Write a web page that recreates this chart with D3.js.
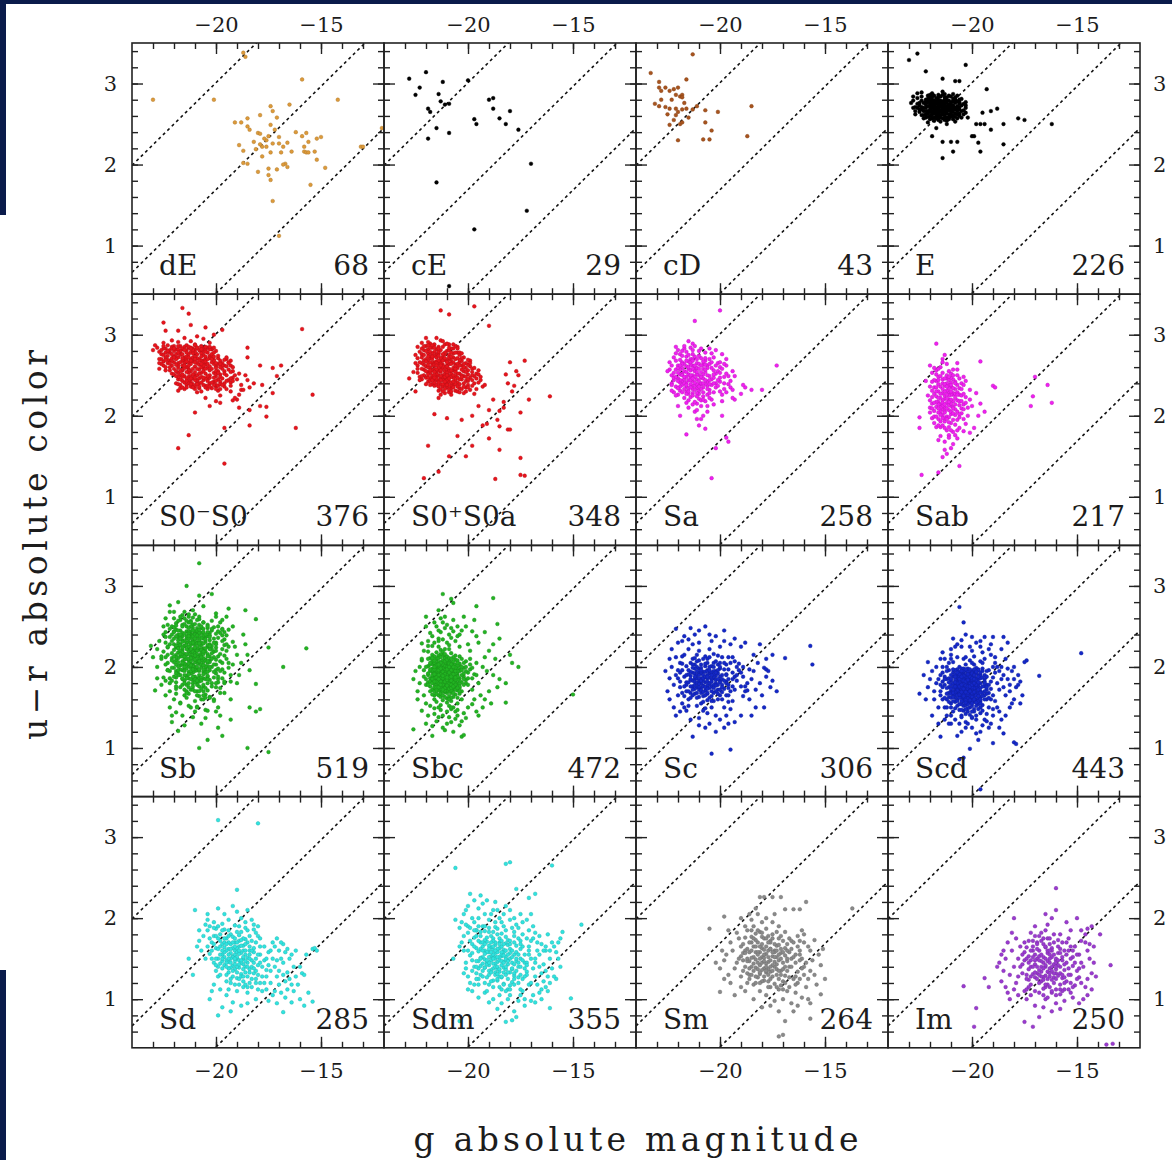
<!DOCTYPE html>
<html><head><meta charset="utf-8">
<script src="https://cdn.jsdelivr.net/npm/d3@7"></script>
<style>
html,body{margin:0;padding:0;background:#fff;}
svg{display:block;}
text{font-family:"DejaVu Serif",serif;fill:#1c1c1c;}
</style></head><body>
<svg id="chart" width="1172" height="1160"></svg>
<script>
// Morphological types, panel order row by row
const types  = ["dE","cE","cD","E","S0\u207BS0","S0\u207AS0a","Sa","Sab","Sb","Sbc","Sc","Scd","Sd","Sdm","Sm","Im"];
const counts = [68,29,43,226,376,348,258,217,519,472,306,443,285,355,264,250];
const colors = ["#dd9a3a","#000000","#a8541e","#000000","#e8141c","#e8141c","#f020f0","#f020f0",
                "#22b422","#22b422","#1428c8","#1428c8","#2fe4e0","#2fe4e0","#8a8a8a","#9a3ad0"];
const magTicks   = [-20, -15];
const colorTicks = [1, 2, 3];
// Reference lines: u−r = a + slope·(M_g + 24)
const guideOffsets = [1.99, 0.67, -0.61];
const guideSlope = 0.255;

// Galaxies of each type; each entry "m c" = −10·M_g and 100·(u−r)
const gal_dE = `230 280,201 280,186 333,159 305,142 280,165 274,174 272,173 266,171 258,191 252,
188 252,185 257,179 261,184 243,180 239,179 238,174 249,172 243,175 235,176 230,
170 234,159 235,157 239,152 232,150 234,156 228,189 224,187 217,181 219,178 222,
173 226,170 226,168 222,166 227,164 216,169 215,174 215,178 210,187 202,185 201,
180 191,175 195,171 194,167 201,166 197,175 187,174 181,158 216,157 215,156 215,
153 216,152 206,148 196,155 175,173 155,170 112,131 222,130 222,121 245,158 222,
179 225,176 222,168 200,177 232,162 240,182 228,187 338,185 247`;

const gal_cE = `228 306,220 314,225 286,212 302,200 304,214 287,213 278,211 274,209 275,219 269,
218 265,215 245,219 232,209 239,197 256,196 250,190 280,188 282,188 269,185 257,
182 250,180 266,176 243,170 201,215 178,172 143,197 120,209 50,223 295`;

const gal_cD = `233 313,213 336,229 302,229 295,228 291,224 291,222 293,221 286,219 284,218 286,
216 305,218 283,231 275,228 280,226 271,224 269,221 269,220 265,218 268,216 269,
213 268,221 261,207 267,201 265,224 249,219 250,218 252,207 252,204 242,220 230,
208 231,205 231,185 272,187 235,226 295,223 280,220 295,217 276,225 262,215 258,
222 255,211 272,229 272`;

const gal_E = `230 329,226 337,222 315,214 306,208 303,206 303,203 323,193 293,188 269,191 266,
195 264,198 250,196 250,194 250,185 250,178 257,175 255,162 250,191 243,200 235,
199 235,197 227,196 216,185 225,209 216,214 208,214 228,210 228,207 228,219 235,
217 245,
215 267,218 271,212 263,220 275,209 260,224 279,216 258,211 272,221 266,206 268,
217 282,213 255,226 270,208 276,219 261,214 274,222 258,210 265,216 279,204 262,
228 284,212 250,219 288,207 257,223 266,215 261,209 281,218 254,225 273,213 270,
220 283,206 275,216 264,211 258,227 262,214 286,203 270,221 277,208 253,217 268,
224 289,213 277,219 257,210 284,216 272,205 258,222 270,212 266,229 276,215 253,
207 272,218 279,214 262,221 252,209 268,226 282,217 275,211 279,203 264,220 260,
215 284,208 263,223 276,212 258,219 270,206 280,216 255,225 265,210 271,213 287,
218 263,204 275,221 285,214 268,227 271,209 256,216 277,211 262,222 262,207 285,
213 280,219 274,205 266,217 260,224 268,210 277,215 271,208 268,226 288,212 254,
220 268,216 286,202 258,223 257,211 274,218 266,207 262,214 278,221 272,209 287,
217 264,213 261,228 279,206 271,219 281,215 276,210 259,224 261,212 283,216 269,
203 277,220 256,214 271,208 280,222 280,211 267,218 258,205 273,225 276,213 265,
216 262,209 273,219 266,214 290,221 259,207 266,217 271,212 276,227 266,210 262,
215 279,223 270,206 263,218 285,213 258,220 272,208 270,216 266,224 284,211 270,
219 277,204 267,214 264,222 274,209 278,217 257,212 272,226 275,215 265,207 278,
221 263,213 273,218 269,205 281,216 283,210 274,223 261,214 257,220 286,208 259,
212 269,217 278,225 268,211 285,219 263,206 260,215 274,222 266,209 271,216 260,
214 276,220 279,207 269,218 273,213 283,228 270,210 268,216 270,203 273,221 281,
217 266,212 279,224 271,209 265,215 258,219 284,206 277,214 267,222 277,211 256,
216 274,208 283,220 265,213 268,218 276`;

const gal_S0m = `216 333,213 326,225 315,218 305,224 305,212 312,205 309,201 300,197 306,159 307,
154 226,162 185,210 204,213 176,218 160,196 141,196 185,184 188,184 207,176 211,
176 199,179 212,173 228,169 262,173 259,179 262,185 272,185 284,198 216,190 220,
189 210,178 238,171 249,193 230,182 240,188 232,
208 257,214 281,200 236,221 262,195 270,205 222,204 284,218 245,198 251,226 276,
206 268,215 233,192 255,210 288,219 271,201 242,213 258,186 250,218 291,207 230,
216 262,203 274,209 240,224 283,194 244,212 270,200 261,192 219,205 252,217 286,
211 246,196 262,222 268,207 279,214 238,199 231,209 265,227 258,202 273,218 253,
204 245,213 276,193 268,220 280,208 234,216 256,206 295,225 267,210 250,201 264,
219 240,206 283,203 212,195 250,223 274,203 256,215 269,209 244,228 284,200 238,
214 260,230 281,210 281,221 252,205 237,217 277,192 247,208 270,188 238,202 282,
211 267,218 231,199 264,213 248,206 275,226 270,196 236,215 285,203 247,220 266,
200 218,222 278,201 269,216 243,194 257,207 286,212 255,198 242,219 282,205 263,
217 250,204 278,211 239,225 262,197 265,213 284,200 249,210 269,185 244,207 253,
193 262,215 272,208 246,223 287,202 234,218 259,215 296,212 242,206 280,227 270,
210 261,199 245,220 273,205 270,214 235,191 250,216 282,203 240,224 256,209 276,
201 253,213 266,218 239,212 292,207 248,222 281,211 272,198 233,216 268,204 259,
226 264,209 284,202 266,215 241,193 241,220 258,206 238,212 279,199 271,217 245,
205 281,223 269,210 236,197 258,214 287,201 247,219 276,208 263,195 233,212 249,
216 257,203 271,191 222,207 268,194 266,213 253,200 280,225 283,209 243,218 272,
198 248,211 283,204 233,189 226,206 259,215 265,229 287,217 234,202 276,210 254,
220 286,208 240,214 270,196 255,224 260,201 268,212 236,205 285,218 248,199 237,
213 243,207 277,223 279,193 246,210 266,216 283,200 259,219 255,204 243,227 279,
209 271,196 240,215 249,202 283,221 268,206 244,212 264,198 268,217 280,205 235,
224 272,211 251,225 290,208 281,218 262,201 238,214 278,199 255,184 235,207 260,
203 250,216 271,210 233,226 281,197 262,213 240,205 273,221 285,209 258,195 243,
212 284,200 265,189 252,206 255,223 265,193 254,215 259,202 241,217 275,208 236,
196 269,214 246,221 283,204 264,210 278,198 239,190 245,207 273,218 265,201 278,
211 235,222 260,205 246,215 281,199 274,209 250,192 260,219 270,203 282,213 256,
207 285,217 238,200 243,224 278,210 244,209 298,212 268,205 258,220 251,214 273,
202 270,208 252,187 232,197 246,216 276,210 287,204 237,218 282,194 265,213 262,
219 263,206 266,211 277,200 252,198 225,203 285,221 271,209 239,198 260,225 275,
214 254,193 237,207 282,217 266,201 273,212 246,222 256,205 267,196 252,210 273,
218 278,204 249,213 285,203 290,209 229,220 283,206 262,216 248,202 258,227 265,
195 272,212 239,208 268,221 276,200 255,215 262,203 236,224 269,211 281,197 238,
206 247,217 255,210 270,192 243,214 267,201 284,219 249,207 241,223 280,204 270,
213 272,198 264,209 284,216 235,205 279,222 265,200 233,211 258,218 286,195 261,
207 264,214 243,203 261,220 272,221 293,210 247,225 286,212 283,199 253,216 251`;

const gal_S0p = `213 330,209 325,197 335,190 311,180 266,173 268,161 224,171 220,177 255,176 250,
178 237,182 251,181 240,185 206,183 210,175 204,181 183,180 183,185 187,185 158,
175 148,175 127,173 126,187 122,191 190,193 188,205 175,201 150,209 150,219 163,
214 131,221 123,198 163,190 207,188 220,183 217,179 230,195 212,198 200,203 195,
210 197,216 202,225 230,228 246,190 172,186 195,
209 249,213 258,205 241,216 266,201 235,219 254,207 272,211 228,203 262,221 281,
210 262,198 244,215 276,206 231,224 262,212 285,200 251,217 239,208 267,214 222,
220 270,204 252,226 254,209 288,196 233,213 246,202 272,218 259,207 238,222 290,
211 255,199 268,216 245,205 278,223 248,212 236,195 256,219 277,208 226,214 264,
203 245,217 284,210 240,201 259,221 263,206 249,213 293,197 227,215 253,209 275,
219 242,204 266,212 250,207 283,224 271,200 238,216 258,211 269,194 244,218 289,
208 234,214 277,202 255,220 247,205 230,210 257,222 276,199 261,213 239,217 265,
206 244,215 296,203 268,211 246,225 265,209 229,197 249,218 271,204 278,212 258,
216 237,201 243,219 282,207 256,213 267,193 236,221 257,209 242,205 285,214 250,
210 280,198 254,217 248,206 263,223 279,202 228,212 272,208 252,220 296,215 244,
204 239,211 288,196 246,218 253,209 264,214 231,200 269,222 265,207 247,216 274,
213 254,203 257,220 286,208 237,224 253,210 246,199 232,215 282,205 259,217 262,
211 238,219 268,202 249,214 279,206 270,195 241,212 263,221 250,209 258,216 288,
207 277,218 246,204 234,213 271,200 263,222 272,210 235,215 267,198 250,208 283,
214 243,205 252,219 291,211 260,202 240,217 256,209 270,224 285,206 239,212 247,
216 279,201 265,213 233,208 248,220 261,197 240,210 268,215 238,204 275,218 284,
209 255,222 245,206 286,212 261,199 247,217 270,203 233,214 256,211 276,221 268,
205 264,215 251,192 238,218 266,208 271,213 226,200 256,210 289,219 247,207 259,
212 244,203 271,216 263,210 251,225 275,206 256,214 285,198 237,220 255,209 232,
217 250,204 245,211 278,201 230,215 272,208 241,222 283,213 249,196 252,219 260,
207 266,212 292,205 236,218 274,210 244,202 260,216 241,209 281,214 259,223 266,
200 243,211 251,217 287,206 254,213 264,220 239,203 277,208 230,215 257,194 248,
219 273,209 246,212 268,205 283,216 250,201 248,222 258,207 242,214 274,210 261,
198 258,215 247,204 269,218 256,211 233,208 278,221 286,213 244,206 261,217 277,
210 253,202 236,214 268,220 280,207 250,212 239,199 265,216 284,209 237,224 258,
205 247,213 281,218 243,208 264,201 254,215 265,211 242,219 263,204 229,212 276,
216 254,207 288,210 266,222 249,203 250,214 236,197 259,209 272,217 244,206 278,
213 262,200 235,219 287,211 248,205 271,215 246,208 256,221 275,202 264,218 238,
209 284,214 241,206 258,217 273,212 230,195 251,210 250,220 267,204 262,216 247,
211 271,207 235,218 279,203 248,213 256,223 244,208 273,215 262,200 245,219 251,
210 238,214 283`;

const gal_Sa = `200 330,212 317,173 262,180 232,185 232,188 235,204 123,197 173,196 168,202 160,
216 177,219 200,193 249,193 220,194 222,189 238,190 227,209 196,207 184,199 200,
213 237,218 252,208 224,221 268,204 245,215 210,210 280,223 240,200 230,216 261,
211 215,206 262,219 231,213 289,202 252,217 222,209 247,224 257,198 240,214 270,
208 200,220 246,212 258,205 232,216 279,197 262,210 238,222 229,203 272,215 244,
218 266,207 218,213 250,200 247,221 285,210 227,216 236,195 235,211 265,206 242,
214 223,203 256,219 241,209 271,223 250,212 205,205 283,217 255,199 226,213 262,
210 250,220 226,206 237,215 292,201 265,218 243,211 196,208 258,224 266,196 249,
216 230,204 220,213 270,221 257,209 239,199 276,214 248,206 205,219 276,211 234,
202 240,217 264,210 221,222 244,207 268,213 228,197 252,215 258,220 212,205 249,
212 286,208 235,218 238,203 229,214 256,225 255,200 260,211 245,216 216,207 278,
219 251,213 214,205 264,221 236,209 254,195 243,215 267,210 188,202 235,217 283,
211 259,206 226,220 262,214 239,198 233,212 273,208 246,223 231,204 277,216 248,
209 219,218 280,213 243,201 255,215 227,207 254,222 272,211 207,197 270,219 236,
214 263,204 238,210 231,217 245,200 242,212 255,220 281,206 212,216 268,208 263,
203 247,221 225,213 276,209 240,194 255,215 234,211 251,218 259,205 222,212 237,
216 241,207 271,223 262,210 258,199 218,214 284,202 262,219 244,208 229,213 225,
211 270,217 233,205 244,220 253,212 217,196 239,215 251,209 283,222 247,206 259,
213 233,200 266,218 274,208 251,214 244,203 214,210 264,216 227,198 248,221 277,
207 239,212 248,219 257,205 270,215 260,211 224,201 237,217 286,209 212,223 238,
214 250,206 250,210 243,218 229,202 281,213 258,197 229,216 273,208 220,220 259,
211 239,204 266,215 219,221 248,209 233,199 258,213 281,207 244,218 264,194 232,
212 262,216 254,205 228,210 274,220 234,203 251,214 235,208 267,217 240,200 253,
213 246,209 262,219 269,206 233,211 228,215 275,201 244,218 250,207 257,222 253,
210 236,214 266,204 259,216 238,212 241,198 264,220 243,208 240,213 268,205 239,
211 254,217 248,209 248,215 230,203 240,212 232,219 262,207 263`;

const gal_Sab = `170 248,164 238,171 224,172 212,162 216,196 267,190 237,189 235,217 289,224 127,
216 130,206 138,225 185,225 198,220 210,199 185,201 179,197 200,194 205,222 243,
210 212,213 221,207 205,216 230,204 196,219 215,211 238,208 189,214 208,206 226,
212 199,217 243,209 218,202 210,215 186,211 229,220 204,205 240,213 193,208 233,
216 217,210 252,214 201,203 223,218 235,209 180,212 246,206 213,221 225,211 207,
215 260,207 195,213 237,209 226,217 211,204 248,211 176,219 197,208 242,214 219,
212 264,205 203,216 248,210 191,218 227,213 206,201 232,209 257,215 214,207 172,
211 244,220 236,208 208,214 228,203 190,212 216,217 256,206 234,210 202,216 196,
213 275,209 165,215 222,204 214,219 253,211 198,207 250,214 240,210 182,218 206,
205 225,212 231,216 170,209 245,213 211,220 262,207 219,211 255,215 193,202 200,
214 270,208 201,217 224,210 236,206 185,212 209,218 244,213 158,209 228,216 214,
211 220,204 238,215 205,219 231,207 265,213 197,210 247,217 186,203 216,212 240,
209 211,216 258,214 188,208 227,211 173,220 219,206 246,213 230,218 199,210 160,
215 236,205 209,212 250,217 217,209 195,214 266,207 229,211 213,219 242,204 181,
213 204,210 226,216 239,208 176,212 221,218 259,206 202,214 245,211 192,215 227,
203 243,209 234,217 199,212 182,214 216,207 257,219 209,210 241,213 168,216 222,
211 225,206 218,215 249,208 214,213 239,218 191,210 205,212 153,204 227,217 235,
209 250,214 212,211 234,216 204,207 238,213 246,201 220,215 175,210 230,219 223,
212 196,208 222,217 251,205 233,214 233,210 215,216 188,206 198,213 225,198 228,
211 248,215 210,209 203,218 216,212 236,207 182,214 197,210 220,200 212,216 244,
213 214,208 240,211 186,217 230,205 218,214 253,209 209,212 226,196 215,215 201,
210 238,213 185,207 226,216 209,211 217,204 208,214 149`;

const gal_Sb = `208 328,214 300,208 288,202 290,181 259,175 224,168 200,157 223,179 148,181 145,
185 100,175 95,208 100,204 110,218 121,221 140,229 171,231 226,228 222,197 115,
181 179,184 150,186 270,222 268,225 250,
208 204,215 226,199 185,221 211,204 248,212 172,195 220,218 192,206 235,210 158,
202 200,216 252,209 181,224 230,197 239,213 208,205 166,219 173,200 262,211 222,
214 189,207 217,192 203,220 244,210 195,203 228,217 156,206 186,223 205,198 174,
212 240,201 212,215 199,208 262,196 193,219 224,205 147,211 233,225 187,204 205,
217 213,209 170,194 246,213 194,206 255,222 180,200 230,210 213,216 238,203 163,
207 227,220 199,198 207,212 150,215 268,204 188,210 243,193 182,218 218,209 196,
201 219,214 235,226 210,206 176,211 203,197 258,216 185,203 242,208 164,221 250,
213 223,205 209,190 215,218 240,209 230,200 192,215 172,207 248,223 196,211 184,
196 227,217 202,204 171,212 257,219 208,206 221,200 145,214 215,208 190,224 243,
210 232,202 180,216 221,194 199,208 214,220 260,205 197,213 167,199 236,217 190,
211 252,223 224,206 206,215 183,201 249,209 178,218 236,197 186,212 213,204 225,
207 160,214 244,192 231,219 195,210 220,203 208,216 264,208 176,221 217,200 203,
213 186,205 238,217 228,198 168,211 240,224 203,206 194,202 257,215 209,209 151,
219 246,208 226,195 210,212 199,204 180,216 233,210 265,200 220,222 186,207 242,
214 170,203 233,218 211,209 205,197 197,213 255,206 170,220 228,211 193,199 250,
216 196,205 219,210 244,225 219,201 187,213 231,207 208,194 225,219 181,208 259,
203 196,212 227,217 245,209 186,198 242,215 216,206 160,222 237,211 210,200 175,
214 250,207 200,193 190,219 215,204 243,211 172,216 203,208 233,223 252,202 222,
210 198,218 229,205 185,213 262,199 213,209 241,221 199,206 223,215 165,196 234,
212 218,201 160,217 237,208 210,224 212,204 200,211 248,197 205,214 189,220 243,
206 247,213 201,203 213,219 254,209 165,215 226,200 196,210 227,222 170,205 231,
216 207,208 182,195 239,212 236,218 190,204 216,211 261,199 181,214 230,207 173,
220 221,210 206,202 245,215 195,206 239,213 175,197 222,217 258,209 213,224 183,
204 189,212 244,218 201,200 228,208 252,214 210,205 162,221 232,210 188,196 214,
216 242,207 230,213 216,202 176,219 187,209 248,194 205,211 180,215 253,206 197,
201 235,217 175,208 221,222 247,205 208,212 192,198 255,214 238,210 170,220 206,
207 214,215 260,203 184,211 229,218 224,206 255,213 191,199 198,216 213,209 236,
223 225,204 252,210 200,196 180,214 203,208 242,219 167,202 210,212 250,217 227,
205 174,211 215,220 188,207 236,213 243,200 241,216 178,209 223,195 228,218 257,
212 207,206 229,214 257,203 200,210 181,221 240,208 195,217 220,199 188,204 238,
215 232,209 208,197 247,213 220,219 203,206 165,211 238,202 217,224 237,208 186,
216 186,204 227,210 253,218 233,200 209,214 178,207 222,221 208,212 185,196 243,
209 245,213 210,205 193,220 249,208 170,215 204,201 230,211 219,217 262,203 206,
206 211,214 222,219 238,210 185,198 216,212 255,207 187,222 195,204 250,216 231,
211 201,203 239,217 197,209 229,200 180,213 235,205 223,219 212,208 246,214 168,
202 226,215 241,210 217,221 183,207 203,197 232,213 248,206 178,218 245,212 195,
208 238,216 218,204 207,211 188,220 235,209 200,214 227,199 244,206 216,223 215,
213 180,207 250,218 206,203 222,210 240,215 190,201 203,212 230,219 251,205 201,
209 216,214 198,206 243,217 235,211 176,200 224,213 241,208 207,222 228,204 185,
215 213,210 235,198 195,212 203,219 226,206 191,216 250,203 237,209 183,213 225,
207 221,218 196,211 245,204 213,214 186,220 213,201 194,209 258,216 224,212 211,
205 234,213 204,208 197,217 240,210 224,202 247,215 180,211 230,219 192,206 202,
212 222,209 239,214 216,207 183,203 226,216 205,210 209,218 223,205 240,211 197,
208 229,213 238,206 219,215 200,210 214,204 194,217 216,209 220,212 202,207 212,
220 160,196 168,222 150,190 180,216 140,199 150,226 178,193 160,211 138,204 146,
188 205,224 260,192 250,228 200,186 228,225 240,195 262,220 268,189 190,230 212,
213 152,219 144,207 130,201 158,224 165,215 128,198 140,210 145,221 132,193 135,
227 232,185 215,222 276,194 272,218 280,206 275,228 186,184 196,200 266,211 270,
217 155,205 137,196 182,191 225,226 213,187 240,223 196,209 150,214 162,199 125,
203 162,213 265,219 176,197 246`;

const gal_Sbc = `188 285,212 290,208 284,207 279,186 253,176 200,179 205,180 215,150 166,226 123,
203 114,202 116,217 115,182 156,182 180,185 235,192 243,220 262,214 270,196 275,
209 183,212 191,206 175,215 198,203 170,218 186,210 205,207 163,213 180,200 193,
216 172,211 212,204 186,219 201,208 158,214 178,201 207,210 168,217 215,205 190,
210 195,207 179,221 188,213 153,202 199,215 209,209 174,198 186,216 165,211 222,
206 196,214 204,208 148,220 178,212 185,204 213,217 194,210 161,201 180,213 206,
219 219,205 162,211 198,215 185,207 203,222 208,209 152,214 173,199 197,212 215,
208 189,217 166,203 210,210 176,216 202,206 145,213 192,218 211,201 184,211 169,
214 225,207 194,212 177,218 195,204 202,209 208,215 157,197 191,211 182,217 204,
205 171,213 216,210 187,219 181,208 205,216 149,202 188,212 196,206 214,214 165,
211 175,217 207,207 184,221 196,209 222,213 170,200 178,215 191,204 197,210 156,
218 176,206 209,212 201,215 218,203 160,209 190,214 182,220 200,207 172,211 211,
213 187,198 199,216 179,210 202,205 187,217 226,208 168,212 184,202 205,214 194,
209 164,215 211,206 181,219 190,211 198,204 174,213 163,208 217,216 188,201 195,
210 185,212 208,217 172,207 197,214 214,205 155,218 203,209 178,203 190,211 204,
215 176,208 201,213 196,220 185,206 166,210 213,216 193,212 159,200 186,214 206,
209 170,217 183,204 204,211 189,207 212,214 171,219 210,210 180,205 198,213 221,
216 160,208 193,212 174,202 178,215 204,209 199,218 170,206 186,211 207,213 179,
207 150,214 188,210 209,217 198,204 167,212 188,199 203,216 213,208 177,211 163,
213 200,205 193,219 192,209 185,215 167,206 203,212 219,210 172,218 182,203 181,
211 194,216 205,208 162,214 198,207 189,213 173,201 200,217 188,210 199,205 208,
212 182,209 211,215 194,206 172,219 178,211 178,204 195,214 211,208 186,216 170,
210 191,213 167,207 207,217 196,202 192,212 203,209 160,215 183,205 179,211 216,
208 198,214 187,216 208,206 190,210 171,213 212,203 200,218 197,209 195,212 165,
207 185,215 172,211 201,204 183,217 211,210 188,213 193,206 177,214 201,208 210,
212 176,209 204,216 184,205 202,211 170,218 205,207 193,213 185,202 185,215 196,
210 178,214 192,208 171,212 198,206 199,217 180,209 188,211 190,204 170,213 205,
216 197,207 175,210 200,215 178,205 184,212 170,209 197,214 183,208 203,211 185,
213 189,206 192,217 190,210 183,204 179,212 193,208 180,215 202,209 176,211 196,
214 177,207 200,212 187,216 175,205 195,210 193,213 197,208 185,211 180,206 184,
210 230,205 238,214 235,200 228,218 242,208 248,212 255,203 245,216 230,196 238,
207 258,213 243,201 250,219 232,209 240,204 225,215 250,198 244,211 262,220 250,
206 232,210 252,214 245,202 262,217 238,208 236,195 230,212 234,222 229,205 250,
216 255,209 227,199 220,213 260,204 240,219 226,207 244,211 248,197 258,214 232,
210 145,205 140,214 138,200 150,218 152,208 132,212 125,203 133,216 142,196 145,
207 120,213 147,201 137,219 140,209 138,204 128,215 133,198 154,211 122,220 130,
206 136,210 130,214 150,202 143,217 127,208 150,195 140,212 140,222 146,205 147,
195 180,190 170,193 200,188 190,197 160,192 212,186 175,196 205,189 155,194 165,
191 195,187 210,198 172,193 150,190 220,196 190,185 185,192 160,199 210,188 228,
223 180,221 165,225 195,222 210,224 170,220 155,226 185,221 220,223 200,224 160,
209 192,212 181,207 168,214 196,210 175,205 188,216 186,208 194,213 176,211 171,
206 180,215 190,209 182,212 178,208 191,214 180,210 197,207 181,213 186,211 193,
204 176,217 185,209 173,212 192,206 195,215 182,210 186,208 174,213 191,216 200,
205 205,211 174,214 203,207 188,210 181,213 183,208 196,216 182,209 200,212 172,
203 196,215 175,210 190,206 178,213 198,211 182,208 187,214 190,209 179,212 194,
207 191,210 184,216 191,205 174,212 186,209 187,214 175,211 191,208 183,213 182,
206 187,210 177,215 187,208 178,211 188,213 178,209 193,212 189,207 176,214 185,
210 187,208 188`;

const gal_Sc = `221 247,157 226,169 211,156 203,204 93,195 98,213 114,175 183,179 199,178 197,
205 179,209 186,201 172,213 193,197 165,216 181,207 201,203 158,211 175,199 190,
214 168,206 210,200 183,218 196,204 150,210 163,195 205,208 177,217 215,202 195,
212 185,198 173,221 190,206 143,193 188,210 220,215 160,203 205,208 194,190 176,
219 205,201 160,207 187,213 228,196 197,211 152,204 176,216 170,199 212,209 168,
222 178,205 192,194 158,212 203,202 140,208 210,218 155,200 225,206 167,191 196,
214 184,197 182,210 198,204 232,216 146,207 181,188 170,211 186,201 203,220 165,
209 155,199 169,213 210,206 196,193 207,217 188,203 186,210 137,196 174,215 222,
202 180,219 175,208 164,185 185,211 200,205 222,198 150,214 194,200 198,207 171,
212 167,194 193,204 185,218 213,209 203,197 203,215 152,206 159,189 164,210 185,
201 214,213 176,223 200,207 149,203 195,196 212,211 215,216 190,199 178,186 197,
208 183,210 230,205 162,192 183,214 205,220 186,202 170,198 232,212 192,206 205,
217 164,204 201,195 170,209 174,183 172,211 162,200 188,215 234,207 213,197 191,
203 168,219 193,210 208,194 212,206 177,213 183,189 188,201 178,216 201,208 146,
199 160,212 211,205 187,192 200,210 193,218 168,203 216,197 140,214 176,207 194,
224 186,200 205,209 180,187 180,213 165,204 158,196 185,211 195,221 212,206 186,
215 181,198 197,208 157,202 189,184 195,210 172,217 150,205 200,193 172,212 178,
207 204,200 165,214 189,190 193,203 178,211 207,196 157,219 182,209 192,181 180,
204 170,213 203,199 185,216 178,206 168,191 204,210 182,202 207,195 148,212 198,
208 176,218 204,201 192,205 212,197 180,214 162,188 176,209 199,203 188,211 168,
220 196,206 190,194 176,212 173,200 200,207 165,215 196,189 200,204 193,198 205,
210 176,196 165,213 199,202 184,217 176,205 174,192 190,209 183,200 172,214 185,
206 182,211 190,187 171,203 200,215 170,198 183,208 190,201 196,212 182,194 185,
178 188,182 205,176 175,180 165,184 215,179 150,186 160,177 195,183 150,181 228,
220 230,224 210,222 150,218 232,225 170,221 140,219 145,223 222,217 238,224 160,
205 240,198 245,210 245,193 235,214 248,202 238,190 225,207 250,195 228,212 240,
205 130,198 125,210 128,193 132,214 135,202 120,190 140,207 125,200 135,196 130,
205 180,208 186,202 177,206 195,210 190,204 182,207 175,203 191,209 171,201 185,
206 173,211 180,204 190,208 169,200 181,205 196,210 179,203 174,207 188,202 193,
197 190,212 188,199 175,209 196,204 164,215 191,201 167,206 188,196 178,213 172,
175 215,173 170,185 140,188 230,178 210,226 195`;

const gal_Scd = `206 274,204 255,148 217,168 189,174 208,175 206,200 237,194 237,190 237,185 237,
225 167,221 206,215 114,206 86,204 88,196 49,180 107,179 105,190 106,201 99,
183 230,209 235,
201 167,204 175,198 160,207 183,195 153,210 170,202 190,199 148,205 162,193 178,
208 157,200 195,196 170,212 185,203 142,206 200,190 165,204 152,209 193,197 185,
202 176,211 163,194 190,205 140,199 203,207 168,192 150,203 185,213 178,197 161,
206 147,200 181,209 206,196 143,204 168,188 180,210 155,201 208,198 173,214 193,
203 158,195 198,207 175,200 137,212 200,197 190,205 186,191 160,209 145,202 198,
199 166,204 210,193 172,208 162,201 150,215 170,196 207,206 179,189 193,203 165,
210 183,198 180,205 154,200 170,213 150,194 185,207 197,202 145,197 197,211 175,
204 192,192 168,208 178,199 157,203 203,196 150,210 162,201 183,187 172,206 171,
200 160,214 182,195 205,205 170,198 140,209 188,202 163,193 160,207 152,197 176,
211 196,203 174,190 187,206 164,200 205,204 146,196 163,212 160,199 194,208 172,
202 180,194 176,207 190,198 168,205 198,201 141,209 166,192 196,204 182,197 154,
210 178,200 166,195 146,206 184,203 153,213 188,199 178,189 158,208 196,202 170,
205 177,196 190,211 168,200 152,193 167,207 160,198 186,204 160,209 180,201 192,
197 170,203 195,212 174,199 145,206 169,194 182,208 149,202 186,191 173,205 192,
200 176,207 172,196 158,210 190,203 165,198 199,205 147,201 173,195 195,209 158,
204 186,199 163,206 194,192 178,202 156,211 186,197 148,205 180,200 188,208 166,
196 180,203 171,210 150,198 192,204 163,201 162,207 187,194 165,209 175,200 145,
205 167,197 196,202 182,212 167,199 171,206 154,193 188,203 190,208 184,200 158,
201 185,195 164,207 178,204 198,198 152,210 167,200 180,196 186,205 172,202 149,
199 188,206 162,203 180,191 182,208 176,200 172,197 167,204 157,211 181,202 194,
205 190,198 175,201 164,207 165,194 170,203 161,209 197,199 182,196 155,206 188,
202 173,200 194,204 170,197 179,208 191,201 156,205 184,193 175,203 148,210 173,
198 165,206 175,200 184,195 187,204 179,209 163,202 166,199 197,207 171,201 178,
203 188,197 158,205 166,200 163,206 181,196 174,202 187,208 169,199 176,204 183,
185 190,182 170,188 150,184 210,180 160,186 135,183 185,181 195,187 125,179 175,
218 170,216 150,220 185,217 200,222 160,219 140,215 210,221 175,216 130,223 190,
200 220,205 225,195 218,210 215,198 230,203 212,192 222,207 228,214 218,189 212,
200 125,205 120,195 128,210 130,198 118,203 132,192 125,207 115,197 110,185 118,
212 140,214 160,211 205,213 210,190 140,189 205,191 215,187 145,215 190,186 200,
194 135,196 225,208 225,206 130,182 150,184 140,180 185,178 178,176 165,177 155,
217 180,219 195,218 160,213 135,211 130,210 210,193 133,191 130,190 200,188 200,
201 225,196 232,205 233,199 213,207 212,194 210,210 222,203 240,191 228,186 222,
202 168,199 174,205 175,201 179,204 166,198 183,203 177,200 168,206 176,197 172,
201 171,204 173,199 169,203 182,200 175,205 178,202 161,198 178,206 166,201 188,
195 168,207 180,200 186,203 169,197 181,204 189,199 160,202 184,205 158,196 193,
208 181,201 159,194 180,206 191,199 185,203 159,200 192,197 164,204 195,202 176,
192 162,209 170,205 195,198 156,201 197,207 158,195 176,203 197,200 155,206 185,
196 168,204 164,199 190,208 188,202 154,197 188,205 169,193 195,201 176,210 185,
194 160,200 178,207 193,203 156,198 194,205 188,196 160,202 191,209 168,199 180,
184 165,186 185,187 195,182 178,183 198,181 155,185 175,178 190,180 200,177 182,
214 175,215 165,213 185,212 195,216 185,214 200,211 157,213 162,215 178,212 150,
196 120,202 130,208 135,193 142,200 138,205 138,198 135,190 148,210 140,203 125,
201 170`;

const gal_Sd = `199 321,180 317,190 235,210 210,204 198,154 162,153 163,158 92,154 97,168 84,
199 80,193 85,202 110,159 132,185 95,181 100,213 150,211 130,208 185,
190 150,193 157,187 143,196 164,184 137,199 150,191 170,188 131,194 146,182 158,
197 138,189 179,185 151,200 163,192 128,195 175,180 142,187 166,198 180,183 125,
191 160,201 145,186 174,194 133,179 155,196 186,189 139,193 168,181 170,199 128,
188 157,195 148,202 170,184 120,190 183,197 155,177 148,192 141,186 188,200 135,
194 162,182 132,189 165,198 172,185 115,191 137,203 156,179 165,196 142,187 150,
193 180,200 150,180 178,190 126,197 193,184 160,192 153,176 136,188 183,199 162,
195 130,186 140,201 178,183 148,191 191,178 128,194 155,189 118,198 144,185 170,
190 163,197 168,182 186,193 139,187 122,200 187,181 150,192 177,175 158,196 152,
188 145,194 185,184 165,199 140,190 140,186 155,202 160,179 175,195 160,191 147,
183 140,197 147,189 172,193 125,180 130,196 175,187 160,198 155,185 128,192 163,
172 140,168 130,170 118,165 125,173 105,169 150,166 112,171 128,163 140,167 102,
174 120,170 135,164 118,168 145,172 110,175 98,166 133,162 128,169 108,173 150,
160 140,165 150,171 95,176 112,163 110,167 122,174 135,158 130,177 120,161 118,
196 205,188 200,201 195,185 210,192 215,199 212,183 198,194 198,190 208,204 205,
195 105,198 112,190 110,185 108,201 118,192 96,188 92,203 100,197 90,180 112,
189 148,192 152,186 160,195 145,191 155,188 166,194 138,184 150,190 158,187 137,
193 150,185 145,196 158,189 156,182 145,191 143,198 165,186 133,194 170,188 148,
178 140,176 150,179 120,181 135,175 142,177 165,180 155,178 110,174 160,176 128,
197 160,199 175,202 150,200 142,203 175,198 130,201 168,204 165,205 150,200 178,
183 160,187 175,181 182,185 185,182 192,186 195,184 178,189 190,180 190,188 173,
190 133,193 120,187 115,195 122,183 115,191 118,189 125,186 118,194 112,181 120,
192 135,195 140,188 128,190 170,193 162,186 147,191 175,189 143,194 178,187 152,
170 160,172 165,168 168,171 148,169 170,167 158,173 170,166 162,171 175,164 155,
197 185,203 190,199 190,206 178,204 185,208 172,201 188,207 160,205 192,209 165,
184 155,186 168,182 163,185 140,183 172,187 128,181 125,184 133,179 145,182 138,
191 165,196 170,193 145,190 152,194 150,192 170,197 150,189 160,195 168,191 150,
157 155,152 160,156 108,160 100,164 96,162 160`;

const gal_Sdm = `206 262,182 267,180 269,160 265,177 236,146 192,155 183,151 101,161 89,204 73,
182 72,179 74,206 198,207 150,171 225,168 230,
186 146,189 153,183 139,192 160,180 133,195 147,187 167,184 127,190 142,178 155,
193 135,185 175,181 148,196 163,188 123,191 171,176 140,183 161,194 178,179 121,
187 157,197 140,182 169,190 130,175 150,192 184,185 134,189 164,177 166,195 125,
184 153,191 145,198 168,180 117,186 180,193 152,173 145,188 138,182 185,196 132,
190 158,178 129,185 163,194 170,181 112,187 133,199 154,175 162,192 139,183 146,
189 178,196 147,176 175,186 123,193 190,180 157,188 151,172 134,184 181,195 159,
191 127,182 137,197 176,179 145,187 189,174 125,190 152,185 115,194 141,181 167,
186 160,193 165,178 183,189 136,183 119,196 185,177 147,188 175,171 155,192 149,
184 142,190 183,180 162,195 138,186 137,182 152,198 157,175 172,191 158,187 144,
179 137,193 144,185 170,189 122,176 127,192 173,183 158,194 151,181 125,188 161,
170 150,166 140,168 128,163 135,171 118,167 160,164 122,169 138,161 150,165 112,
172 130,168 145,162 128,166 155,170 120,158 125,164 143,160 138,167 118,171 165,
157 150,163 160,169 105,174 110,161 120,165 132,172 145,156 140,173 100,159 128,
198 200,195 212,200 190,192 205,197 222,203 195,190 198,196 185,201 210,194 228,
199 230,193 218,202 205,188 210,197 195,204 188,191 222,200 215,195 200,187 195,
188 100,184 95,180 105,176 98,192 108,186 88,173 92,190 96,182 110,178 85,
185 148,188 155,182 160,191 143,187 152,184 165,190 135,180 150,186 158,183 133,
189 148,181 143,192 156,185 152,178 143,187 140,194 162,182 130,190 166,184 147,
175 140,173 155,176 120,178 132,172 142,174 165,177 150,175 112,171 160,173 128,
193 160,195 172,198 148,196 140,199 172,194 130,197 165,200 160,201 145,196 178,
180 168,184 172,178 178,182 177,179 188,183 190,181 173,186 187,177 192,185 168,
187 130,190 118,184 112,192 120,180 112,188 115,186 125,183 118,191 110,178 118,
189 133,192 139,185 128,187 170,190 162,183 145,188 172,186 140,191 176,184 155,
167 170,169 175,165 168,168 150,166 178,164 160,170 172,163 165,168 182,161 160,
194 183,199 188,195 190,202 178,200 182,203 170,197 185,202 160,201 192,204 165,
181 155,183 168,179 160,182 140,180 172,184 128,178 125,181 133,176 145,179 138,
188 165,193 170,190 145,187 150,191 148,189 170,194 150,186 162,192 168,188 150,
160 170,158 158,162 110,165 100,168 96,159 165,157 170,162 180,156 175,174 180,
186 152,184 158,188 144,182 149,187 160,185 137,183 154,189 158,181 147,186 131,
177 158,179 152,175 168,174 148,178 170,176 155,173 138,172 175,177 135,175 130,
198 135,196 125,200 128,197 118,199 120,195 118,202 132,193 128,201 138,198 110,
171 185,174 195,176 188,169 190,172 198,178 200,175 205,180 210,183 205,170 205,
185 200,189 205,182 215,187 220,184 195,192 190,190 188,186 210,180 198,188 183,
181 100,175 105,170 98,185 105,177 78,166 108,195 102,163 115,200 112`;

const gal_Sm = `159 220,169 211,165 211,162 211,179 226,175 226,171 226,205 187,198 202,151 162,
155 173,137 212,170 56,172 54,169 73,157 76,200 109,152 106,181 226,183 212,
177 146,180 152,174 140,183 158,171 135,186 147,178 165,175 128,181 142,169 154,
184 135,176 172,172 148,187 162,179 123,182 170,167 140,174 160,185 177,170 122,
178 156,188 140,173 166,181 131,166 150,183 181,176 134,180 163,168 168,186 125,
175 153,182 145,189 168,171 117,177 178,184 152,164 145,179 138,173 183,187 132,
181 158,169 129,176 162,185 170,172 112,178 133,190 153,166 162,183 139,174 146,
180 177,187 147,167 175,177 122,184 190,171 157,179 151,163 134,175 180,186 158,
182 127,173 137,188 176,170 145,178 187,165 125,181 150,176 115,185 140,172 167,
177 160,184 165,169 183,180 136,174 119,187 185,168 147,179 175,162 155,183 149,
175 142,181 183,171 162,186 138,177 137,173 152,189 157,166 172,182 158,178 144,
170 137,184 144,176 170,180 122,167 127,183 173,174 158,185 151,172 125,179 161,
192 145,194 160,196 130,191 175,193 138,197 155,195 170,190 128,198 148,192 182,
160 140,158 125,162 160,157 135,161 150,159 115,163 120,156 148,160 170,164 108,
178 105,174 98,181 110,170 100,176 92,168 110,184 100,172 85,180 90,166 95,
188 190,185 198,178 200,182 205,175 195,172 190,180 195,186 205,174 205,190 200,
176 148,179 155,173 143,181 165,178 135,175 158,182 137,171 150,177 130,180 145,
174 168,172 175,170 158,168 135,176 125,183 128,185 160,169 120,187 150,173 130,
195 120,190 115,188 110,193 105,198 125,200 138,199 160,202 145,191 150,196 185,
155 130,152 142,158 100,154 118,153 155,163 92,165 85,161 102,150 125,157 95,
178 140,176 162,180 168,175 135,179 147,181 133,174 152,177 170,182 155,173 160,
167 158,165 170,164 128,166 140,163 165,162 125,167 115,165 152,161 138,168 160,
186 170,189 135,187 120,184 118,188 160,190 165,186 130,185 185,183 120,189 148,
171 130,169 140,170 172,172 135,168 150,171 178,173 115,170 112,169 163,172 155,
179 128,177 115,181 120,183 165,180 182,178 175,182 185,176 140,184 175,177 152,
160 180,158 165,161 185,163 178,159 145,162 148,164 155,157 160,160 130,162 172,
185 130,175 175,188 157,164 118`;

const gal_Im = `160 237,204 116,194 126,198 89,199 66,175 72,171 66,136 44,133 45,134 142,
139 180,145 187,143 190,188 140,192 115,180 200,165 205,150 200,
163 138,166 145,160 132,169 150,157 126,172 140,164 157,161 120,167 134,155 145,
170 127,162 163,158 140,173 153,165 115,168 160,153 130,160 148,171 165,156 112,
164 147,174 130,159 157,167 122,152 141,169 170,162 124,166 152,154 160,172 118,
161 143,168 136,175 158,157 110,163 168,170 143,150 135,165 129,159 173,173 124,
167 147,155 122,162 152,171 160,158 106,164 125,176 143,152 152,169 132,160 137,
166 168,173 137,153 165,163 115,170 178,157 148,165 140,149 127,161 170,172 148,
168 120,159 129,174 164,156 136,164 175,151 117,167 140,162 108,171 131,158 157,
163 150,170 155,155 170,166 127,160 112,173 172,154 138,165 164,148 145,169 140,
161 132,167 172,157 152,172 128,163 128,159 142,175 148,152 160,168 148,164 134,
156 127,170 133,162 160,166 113,153 120,169 162,160 145,171 140,158 118,165 150,
165 185,158 180,170 190,155 195,162 200,168 178,160 210,172 182,153 185,164 192,
165 100,160 95,170 92,156 98,162 85,168 78,158 88,174 100,152 102,166 90,
147 140,145 125,149 155,144 150,146 115,143 132,148 120,142 145,145 160,141 128,
180 140,182 130,178 150,185 135,179 120,184 150,181 160,186 122,177 165,183 108,
162 135,165 142,160 150,167 128,163 145,158 132,164 160,161 127,166 138,159 148,
168 153,170 148,156 143,171 152,157 130,169 125,163 160,155 155,172 160,160 125,
174 150,176 132,173 115,175 170,177 140,174 125,176 155,173 145,175 110,178 128,
151 145,153 150,150 125,154 130,152 115,151 165,149 138,153 108,150 155,154 175,
164 118,166 124,162 140,167 155,163 132,161 155,165 118,160 140,168 130,162 110,
157 170,159 165,161 180,163 175,166 175,169 168,171 172,158 162,156 160,167 182,
170 110,172 105,168 108,166 105,164 102,160 105,158 112,156 120,154 112,174 112,
146 170,148 172,144 168,147 100,149 95,145 105,143 112,146 180,148 185,142 165,
179 175,181 182,183 170,185 160,187 145,180 112,178 105,182 100,184 115,186 155,
163 155,165 165`;

const galaxies = [gal_dE, gal_cE, gal_cD, gal_E, gal_S0m, gal_S0p, gal_Sa, gal_Sab,
                  gal_Sb, gal_Sbc, gal_Sc, gal_Scd, gal_Sd, gal_Sdm, gal_Sm, gal_Im];

function parseGalaxies(s) {
  const v = s.trim().split(/[\s,]+/).map(Number);
  const out = [];
  for (let i = 0; i + 1 < v.length; i += 2) out.push({mag: -v[i] / 10, col: v[i + 1] / 100});
  return out;
}

// ---- layout ----
const X0 = 132, Y0 = 43, PW = 252, PH = 251.2;
const x = d3.scaleLinear().domain([-24, -12]).range([0, PW]);
const y = d3.scaleLinear().domain([0.4, 3.5]).range([PH, 0]);
const minorMag = d3.range(-23, -12, 1);
const minorCol = d3.range(3, 18).map(i => i / 5);
const tickFmt = d3.format("d");

const svg = d3.select("#chart");
svg.append("rect").attr("width", 1172).attr("height", 1160).attr("fill", "#fff");

// dark slide border fragments
const navy = "#0a1b4b";
svg.append("rect").attr("x", 0).attr("y", 0).attr("width", 1172).attr("height", 4).attr("fill", navy);
svg.append("rect").attr("x", 0).attr("y", 0).attr("width", 6).attr("height", 215).attr("fill", navy);
svg.append("rect").attr("x", 0).attr("y", 970).attr("width", 6).attr("height", 190).attr("fill", navy);

svg.append("defs").append("clipPath").attr("id", "panelClip")
  .append("rect").attr("width", PW).attr("height", PH);

function styleAxis(g) {
  g.select(".domain").remove();
  g.selectAll(".tick line").attr("stroke", "#222").attr("stroke-width", 1.4);
  g.selectAll(".tick text").attr("fill", "#1c1c1c").attr("font-family", "DejaVu Serif, serif").attr("font-size", 21);
}

types.forEach((t, i) => {
  const col = i % 4, row = Math.floor(i / 4);
  const g = svg.append("g").attr("transform", `translate(${X0 + col * PW},${Y0 + row * PH})`);
  const pts = parseGalaxies(galaxies[i]);

  // reference lines
  const guides = g.append("g").attr("clip-path", "url(#panelClip)");
  guideOffsets.forEach(a => {
    const line = d3.line().x(d => x(d[0])).y(d => y(d[1]));
    guides.append("path")
      .attr("d", line([[-24, a], [-12, a + guideSlope * 12]]))
      .attr("fill", "none").attr("stroke", "#111").attr("stroke-width", 1.6)
      .attr("stroke-dasharray", "3,3.2");
  });

  // galaxies
  const c = colors[i];
  const dark = d3.color(c).darker(0.7).formatHex();
  g.append("g").attr("clip-path", "url(#panelClip)")
    .selectAll("circle").data(pts).join("circle")
    .attr("cx", d => x(d.mag)).attr("cy", d => y(d.col)).attr("r", 1.85)
    .attr("fill", c).attr("stroke", dark).attr("stroke-width", 0.45);

  // ticks: bottom / top
  g.append("g").attr("transform", `translate(0,${PH})`)
    .call(d3.axisBottom(x).tickValues(minorMag).tickSize(-6).tickFormat("")).call(styleAxis);
  g.append("g").attr("transform", `translate(0,${PH})`)
    .call(d3.axisBottom(x).tickValues(magTicks).tickSize(-11).tickPadding(15)
      .tickFormat(row === 3 ? tickFmt : "")).call(styleAxis);
  g.append("g")
    .call(d3.axisTop(x).tickValues(minorMag).tickSize(-6).tickFormat("")).call(styleAxis);
  g.append("g")
    .call(d3.axisTop(x).tickValues(magTicks).tickSize(-11).tickPadding(11)
      .tickFormat(row === 0 ? tickFmt : "")).call(styleAxis);
  // ticks: left / right
  g.append("g")
    .call(d3.axisLeft(y).tickValues(minorCol).tickSize(-6).tickFormat("")).call(styleAxis);
  g.append("g")
    .call(d3.axisLeft(y).tickValues(colorTicks).tickSize(-11).tickPadding(15)
      .tickFormat(col === 0 ? tickFmt : "")).call(styleAxis);
  g.append("g").attr("transform", `translate(${PW},0)`)
    .call(d3.axisRight(y).tickValues(minorCol).tickSize(-6).tickFormat("")).call(styleAxis);
  g.append("g").attr("transform", `translate(${PW},0)`)
    .call(d3.axisRight(y).tickValues(colorTicks).tickSize(-11).tickPadding(13)
      .tickFormat(col === 3 ? tickFmt : "")).call(styleAxis);

  // frame
  g.append("rect").attr("width", PW).attr("height", PH)
    .attr("fill", "none").attr("stroke", "#222").attr("stroke-width", 1.6);

  // type and count
  g.append("text").attr("x", 27).attr("y", PH - 19).attr("font-size", 28).text(t);
  g.append("text").attr("x", PW - 15).attr("y", PH - 19).attr("font-size", 28)
    .attr("text-anchor", "end").text(counts[i]);
});

// axis titles
svg.append("text").attr("x", 636).attr("y", 1151).attr("text-anchor", "middle")
  .attr("font-size", 33).attr("textLength", 445).attr("lengthAdjust", "spacing")
  .text("g absolute magnitude");
svg.append("text").attr("transform", "translate(47,545) rotate(-90)").attr("text-anchor", "middle")
  .attr("font-size", 33).attr("textLength", 390).attr("lengthAdjust", "spacing")
  .text("u\u2212r absolute color");
</script>
</body></html>
